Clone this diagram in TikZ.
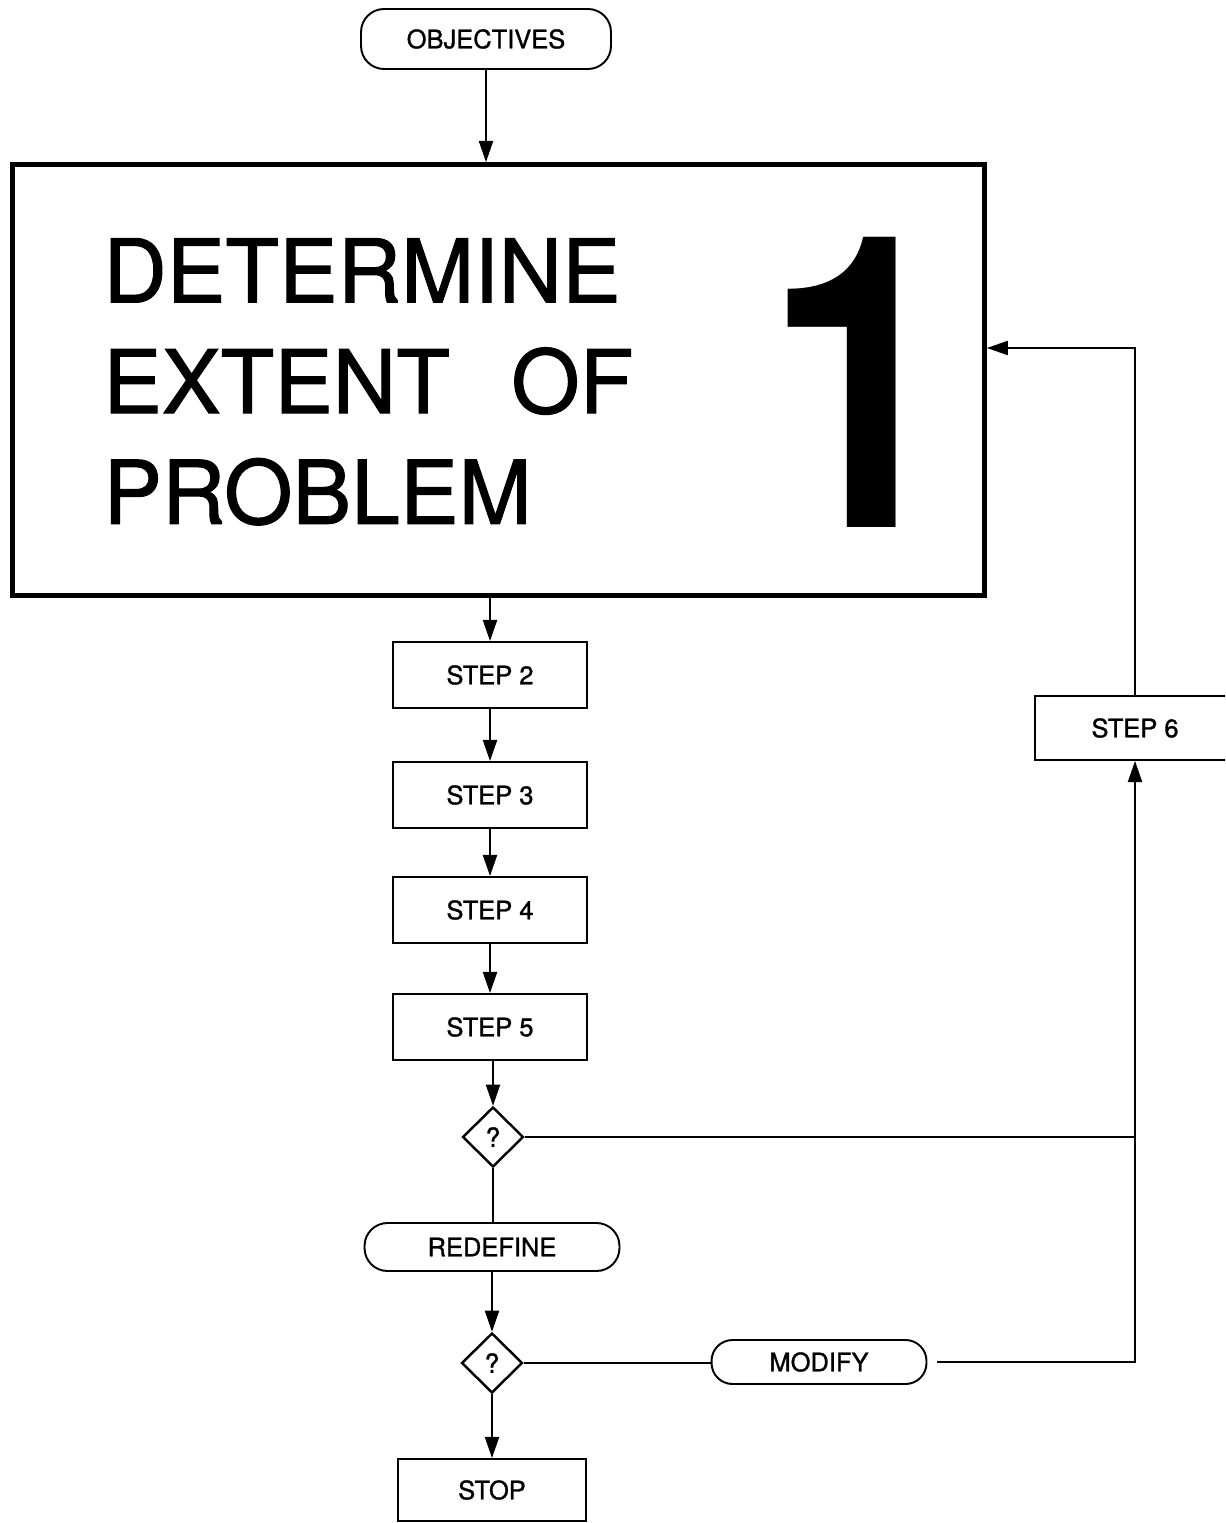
\documentclass[tikz,border=0pt]{standalone}
\usepackage{fontspec}
\setmainfont{TeX Gyre Heros}
\newfontfamily\chartfont{TeX Gyre Heros}[RawFeature={embolden=1.2}]
\usetikzlibrary{arrows.meta,shapes.geometric}

\begin{document}
\begin{tikzpicture}[x=0.02cm, y=-0.02cm]

% --- Styles ---
\tikzset{
    terminal/.style={draw, line width=1.1pt, rounded corners=0.46cm,
        minimum height=1.2cm, inner sep=0pt,
        font=\chartfont\fontsize{14.5}{17}\selectfont},
    stepbox/.style={draw, line width=1.1pt, minimum width=3.88cm,
        minimum height=1.32cm, inner sep=0pt,
        font=\chartfont\fontsize{14.5}{17}\selectfont},
    decision/.style={draw, diamond, line width=1.4pt, minimum width=1.22cm,
        minimum height=1.2cm, inner sep=0pt,
        font=\chartfont\fontsize{15}{17}\selectfont},
    bigbox/.style={draw, line width=2.8pt, minimum width=19.44cm,
        minimum height=8.62cm},
    bigtitle/.style={font=\chartfont\fontsize{50}{63}\selectfont, align=left, inner sep=0pt},
    bignumber/.style={font=\fontsize{233}{233}\selectfont\bfseries, inner sep=0pt},
    arrow/.style={-{Triangle[length=12pt,width=8pt]}, line width=1.1pt},
    link/.style={line width=1.1pt}
}

% page frame, STEP 6 runs off the right edge
\path[use as bounding box, clip] (0,0) rectangle (1225,1523);

% --- Start en hoofdblok ---
\node[terminal, minimum width=5.0cm] (objectives) at (486, 39) {OBJECTIVES};
\node[bigbox] (extent) at (498.5, 380) {};
\node[bigtitle, anchor=north west] (title) at (103, 238) {DETERMINE\\EXTENT\hspace{0.7em}OF\\PROBLEM};
\node[bignumber, anchor=base] (one) at (861, 527) {\scalebox{0.85}[1]{1}};

% --- Stappen ---
\node[stepbox] (step2) at (490, 675) {STEP 2};
\node[stepbox] (step3) at (490, 795) {STEP 3};
\node[stepbox] (step4) at (490, 910) {STEP 4};
\node[stepbox] (step5) at (490, 1027) {STEP 5};
\node[decision] (check1) at (493, 1137) {?};
\node[terminal, minimum width=5.1cm, minimum height=0.96cm] (redefine) at (492, 1247) {REDEFINE};
\node[decision] (check2) at (492, 1363) {?};
\node[stepbox, minimum width=3.76cm, minimum height=1.24cm] (stop) at (492, 1490) {STOP};
\node[terminal, minimum width=4.3cm, minimum height=0.88cm, rounded corners=0.42cm] (modify) at (819, 1362) {MODIFY};
\node[stepbox, minimum width=4.0cm, minimum height=1.28cm] (step6) at (1135, 728) {STEP 6}; % rechts afgesneden

% terugloop rechts
\coordinate (rail) at (1135, 1363);
\coordinate (back) at (1135, 348);

% --- Pijlen ---
\draw[arrow] (objectives.south) -- (objectives.south |- extent.north);
\draw[arrow] (step2.north |- extent.south) -- (step2.north);
\draw[arrow] (step2) -- (step3);
\draw[arrow] (step3) -- (step4);
\draw[arrow] (step4) -- (step5);
\draw[arrow] (step5.south -| check1.north) -- (check1.north);
\draw[link] (check1.south) -- (check1.south |- redefine.north);
\draw[arrow] (redefine.south -| check2.north) -- (check2.north);
\draw[arrow] (check2) -- (stop);
\draw[link] (check2.east) -- (check2.east -| modify.west);
\draw[link] (check1.east) -- (check1.east -| rail);
\draw[arrow, shorten <=0.2cm] (modify.east) -- (modify.east -| rail) -- (rail |- step6.south);
\draw[arrow] (step6.north) -- (back) -- (back -| extent.east);

\end{tikzpicture}
\end{document}
